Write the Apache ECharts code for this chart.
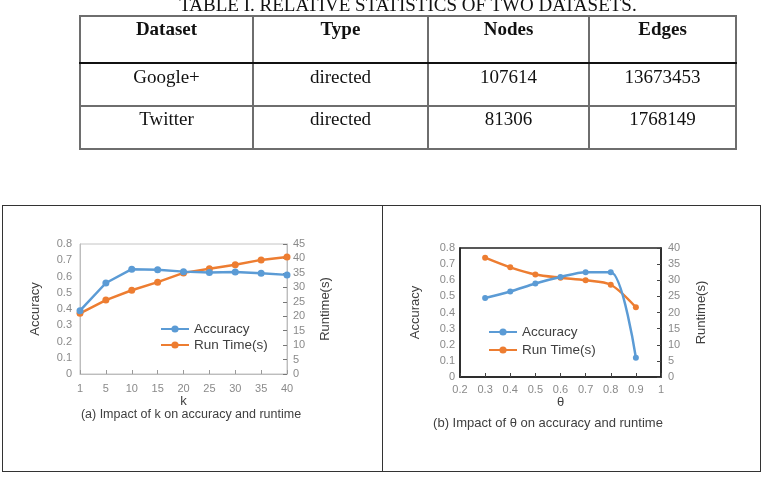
<!DOCTYPE html>
<html>
<head>
<meta charset="utf-8">
<script src="https://cdn.jsdelivr.net/npm/echarts@6/dist/echarts.min.js"></script>
<style>
html,body{margin:0;padding:0;background:#fff;}
#wrap{position:relative;width:766px;height:480px;overflow:hidden;}
#chart{position:absolute;left:0;top:0;width:766px;height:480px;}
.ov{position:absolute;pointer-events:none;}
.cell{position:absolute;font-family:"Liberation Serif","Times New Roman",serif;font-size:19px;line-height:22px;text-align:center;color:#111;}
.hdr{font-weight:bold;}
.vl{position:absolute;width:2px;background:#6e6e6e;}
.hl{position:absolute;height:2px;background:#6e6e6e;}
</style>
</head>
<body>
<div id="wrap">
<div id="chart"></div>
<div id="tbl" class="ov" style="left:0;top:0;width:766px;height:160px;"></div>
<div class="ov" style="left:2px;top:205px;width:757px;height:265px;border:1px solid #333;"></div>
<div class="ov" style="left:382px;top:205px;width:1px;height:266px;background:#333;"></div>
</div>
<script>
// ---- table data ----
const tableTitle = "TABLE I. RELATIVE STATISTICS OF TWO DATASETS.";
const tableHeaders = ["Dataset", "Type", "Nodes", "Edges"];
const datasetNames = ["Google+", "Twitter"];
const datasetTypes = ["directed", "directed"];
const datasetNodes = ["107614", "81306"];
const datasetEdges = ["13673453", "1768149"];

// ---- chart (a) data ----
const kVals = ["1", "5", "10", "15", "20", "25", "30", "35", "40"];
const accK = [0.39, 0.56, 0.645, 0.642, 0.63, 0.625, 0.628, 0.62, 0.61];
const runK = [21.0, 25.6, 29.0, 31.8, 35.0, 36.4, 37.8, 39.5, 40.5];

// ---- chart (b) data ----
const thetaVals = [0.3, 0.4, 0.5, 0.6, 0.7, 0.8, 0.9];
const accTheta = [0.49, 0.53, 0.58, 0.62, 0.65, 0.65, 0.12];
const runTheta = [37.0, 34.0, 31.8, 30.8, 30.0, 28.6, 21.6];

const accTicks = [0, 0.8, 0.1];
const runTicksA = [0, 45, 5];
const runTicksB = [0, 40, 5];

const seriesNames = ["Accuracy", "Run Time(s)"];
const captionA = "(a) Impact of k on accuracy and runtime";
const captionB = "(b) Impact of θ on accuracy and runtime";

// ---- build table ----
(function(){
  const t = document.getElementById('tbl');
  const colX = [80, 253, 428, 589, 736];
  const rowY = [16, 63, 106, 149];
  const title = document.createElement('div');
  title.className = 'cell';
  title.style.left = '0px'; title.style.width = '816px'; title.style.top = '-6px';
  title.textContent = tableTitle;
  t.appendChild(title);
  const rows = [tableHeaders];
  for (let i = 0; i < datasetNames.length; i++) rows.push([datasetNames[i], datasetTypes[i], datasetNodes[i], datasetEdges[i]]);
  rows.forEach((r, ri) => {
    r.forEach((txt, ci) => {
      const d = document.createElement('div');
      d.className = 'cell' + (ri === 0 ? ' hdr' : '');
      d.style.left = colX[ci] + 'px';
      d.style.width = (colX[ci+1] - colX[ci]) + 'px';
      d.style.top = (rowY[ri] + (ri === 1 ? 3 : 2)) + 'px';
      d.textContent = txt;
      t.appendChild(d);
    });
  });
  colX.forEach(x => {
    const v = document.createElement('div'); v.className = 'vl';
    v.style.left = (x - 1) + 'px'; v.style.top = rowY[0] + 'px'; v.style.height = (rowY[3] - rowY[0] + 1) + 'px';
    t.appendChild(v);
  });
  rowY.forEach((y, i) => {
    const h = document.createElement('div'); h.className = 'hl';
    h.style.left = (colX[0] - 1) + 'px'; h.style.top = (y - 1) + 'px'; h.style.width = (colX[4] - colX[0] + 2) + 'px';
    if (i === 1) { h.style.background = '#111'; }
    t.appendChild(h);
  });
})();

// ---- charts ----
const chart = echarts.init(document.getElementById('chart'), null, {renderer: 'canvas'});
const FONT = "Liberation Sans";
const lbl = {color: '#8a8a8a', fontSize: 11, fontFamily: FONT};
const nameStyle = {color: '#404040', fontSize: 13, fontFamily: FONT};
const blue = '#5B9BD5', orange = '#ED7D31';

const option = {
  animation: false,
  grid: [
    {left: 80, right: 479, top: 244, bottom: 106, show: true, borderColor: '#c4c4c4', borderWidth: 1},
    {left: 460, right: 105, top: 248, bottom: 103, show: true, borderColor: '#222', borderWidth: 1.5}
  ],
  legend: [
    {data: seriesNames, orient: 'vertical', left: 160, top: 322, padding: 0, itemWidth: 28, itemHeight: 9, itemGap: 2,
     textStyle: {color: '#404040', fontSize: 13.5, fontFamily: FONT}, selectedMode: false},
    {data: seriesNames, orient: 'vertical', left: 488, top: 325, padding: 0, itemWidth: 28, itemHeight: 9, itemGap: 4,
     textStyle: {color: '#404040', fontSize: 13.5, fontFamily: FONT}, selectedMode: false}
  ],
  xAxis: [
    {type: 'category', gridIndex: 0, data: kVals, boundaryGap: false,
     axisLine: {lineStyle: {color: '#bdbdbd', width: 1}},
     axisTick: {show: true, inside: true, length: 4, lineStyle: {color: '#9a9a9a'}},
     axisLabel: Object.assign({margin: 9}, lbl),
     name: 'k', nameLocation: 'middle', nameGap: 20, nameTextStyle: nameStyle, splitLine: {show: false}},
    {type: 'value', gridIndex: 1, min: 0.2, max: 1, interval: 0.1,
     axisLine: {lineStyle: {color: '#222', width: 1.5}},
     axisTick: {show: true, inside: true, length: 4, lineStyle: {color: '#444'}},
     axisLabel: Object.assign({margin: 7, formatter: v => String(Math.round(v * 10) / 10)}, lbl),
     name: 'θ', nameLocation: 'middle', nameGap: 18, nameTextStyle: nameStyle, splitLine: {show: false}}
  ],
  yAxis: [
    {type: 'value', gridIndex: 0, min: accTicks[0], max: accTicks[1], interval: accTicks[2],
     axisLine: {show: true, lineStyle: {color: '#bdbdbd'}}, axisTick: {show: false},
     axisLabel: Object.assign({margin: 8, formatter: v => String(Math.round(v * 10) / 10)}, lbl),
     splitLine: {show: false},
     name: 'Accuracy', nameLocation: 'middle', nameRotate: 90, nameGap: 38, nameTextStyle: nameStyle},
    {type: 'value', gridIndex: 0, position: 'right', min: runTicksA[0], max: runTicksA[1], interval: runTicksA[2],
     axisLine: {show: true, lineStyle: {color: '#bdbdbd'}},
     axisTick: {show: true, inside: true, length: 4, lineStyle: {color: '#777'}},
     axisLabel: Object.assign({margin: 6}, lbl), splitLine: {show: false},
     name: 'Runtime(s)', nameLocation: 'middle', nameRotate: 90, nameGap: 32, nameTextStyle: nameStyle},
    {type: 'value', gridIndex: 1, min: accTicks[0], max: accTicks[1], interval: accTicks[2],
     axisLine: {show: true, lineStyle: {color: '#222', width: 1.5}}, axisTick: {show: false},
     axisLabel: Object.assign({margin: 5, formatter: v => String(Math.round(v * 10) / 10)}, lbl),
     splitLine: {show: false},
     name: 'Accuracy', nameLocation: 'middle', nameRotate: 90, nameGap: 38, nameTextStyle: nameStyle},
    {type: 'value', gridIndex: 1, position: 'right', min: runTicksB[0], max: runTicksB[1], interval: runTicksB[2],
     axisLine: {show: true, lineStyle: {color: '#222', width: 1.5}},
     axisTick: {show: true, inside: true, length: 4, lineStyle: {color: '#444'}},
     axisLabel: Object.assign({margin: 7}, lbl), splitLine: {show: false},
     name: 'Runtime(s)', nameLocation: 'middle', nameRotate: 90, nameGap: 34, nameTextStyle: nameStyle}
  ],
  series: [
    {name: seriesNames[0], type: 'line', xAxisIndex: 0, yAxisIndex: 0, data: accK,
     symbol: 'circle', symbolSize: 7, lineStyle: {color: blue, width: 2.5}, itemStyle: {color: blue}, z: 3},
    {name: seriesNames[1], type: 'line', xAxisIndex: 0, yAxisIndex: 1, data: runK,
     symbol: 'circle', symbolSize: 7, lineStyle: {color: orange, width: 2.5}, itemStyle: {color: orange}, z: 2},
    {name: seriesNames[0], type: 'line', xAxisIndex: 1, yAxisIndex: 2, data: thetaVals.map((t, i) => [t, accTheta[i]]),
     smooth: 0.3, symbol: 'circle', symbolSize: 6, lineStyle: {color: blue, width: 2.5}, itemStyle: {color: blue}, z: 3},
    {name: seriesNames[1], type: 'line', xAxisIndex: 1, yAxisIndex: 3, data: thetaVals.map((t, i) => [t, runTheta[i]]),
     smooth: 0.3, symbol: 'circle', symbolSize: 6, lineStyle: {color: orange, width: 2.5}, itemStyle: {color: orange}, z: 2}
  ],
  graphic: [
    {type: 'text', x: 191, y: 415,
     style: {text: captionA, textAlign: 'center', textVerticalAlign: 'middle', fill: '#404040', fontSize: 12.5, fontFamily: FONT}},
    {type: 'text', x: 548, y: 423,
     style: {text: captionB, textAlign: 'center', textVerticalAlign: 'middle', fill: '#404040', fontSize: 13, fontFamily: FONT}}
  ]
};
chart.setOption(option);
</script>
</body>
</html>
